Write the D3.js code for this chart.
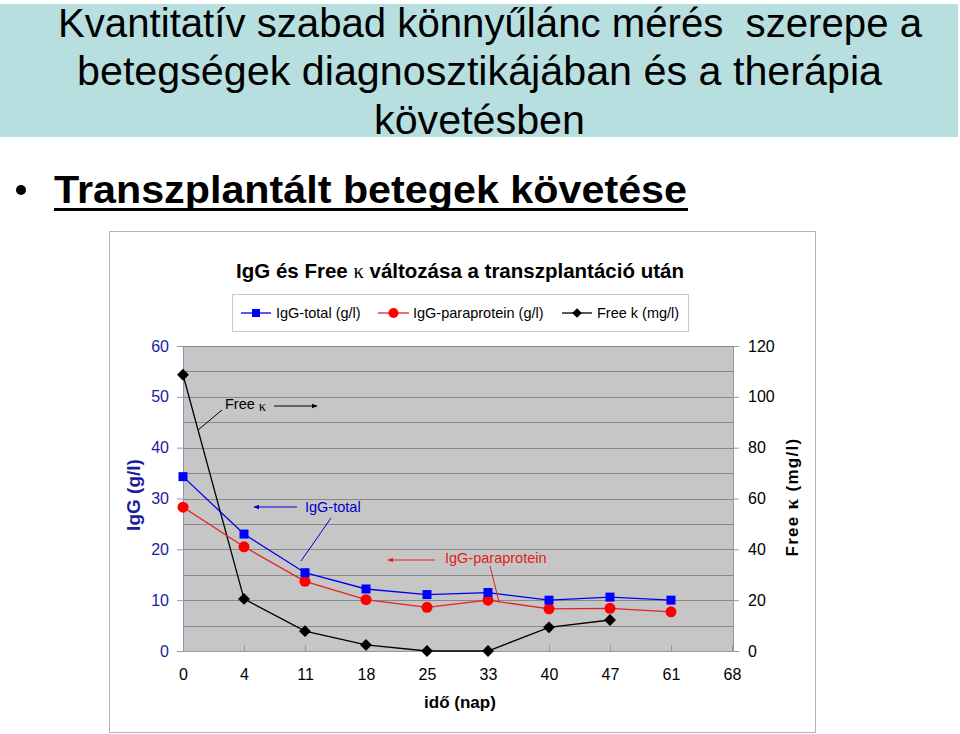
<!DOCTYPE html>
<html><head><meta charset="utf-8">
<script src="https://cdn.jsdelivr.net/npm/d3@7"></script>
<style>body{margin:0;background:#fff}svg{display:block}</style>
</head><body>
<script>
const days = ["0","4","11","18","25","33","40","47","61","68"];
const igTotal = [34.3, 23.0, 15.4, 12.2, 11.1, 11.5, 10.0, 10.6, 10.0, null];
const igPara = [28.3, 20.5, 13.7, 10.1, 8.6, 10.0, 8.3, 8.4, 7.7, null];
const freeK = [108.7, 20.5, 7.8, 2.4, 0, 0, 9.3, 12.2, null, null];
const leftTicks = [0,10,20,30,40,50,60];
const rightTicks = [0,20,40,60,80,100,120];
const gridVals = d3.range(0, 61, 5);

const W = 960, H = 734;
const svg = d3.select("body").append("svg").attr("width", W).attr("height", H);
const narrow = "'Liberation Sans Narrow','Arial Narrow','Liberation Sans',sans-serif";
const sans = "'Liberation Sans',Arial,sans-serif";
const serif = "'Liberation Serif','DejaVu Serif',serif";

// Slide header
svg.append("rect").attr("x",0).attr("y",4).attr("width",958).attr("height",133).attr("fill","#b8dfe0");
const tl = [["Kvantitatív szabad könnyűlánc mérés  szerepe a",37,58,864],
            ["betegségek diagnosztikájában és a therápia",85,77,805],
            ["követésben",134,374,211]];
tl.forEach(([t,y,x,w])=>{
  svg.append("text").attr("x",x).attr("y",y).attr("font-family",narrow).attr("font-size",40)
    .attr("textLength",w).attr("lengthAdjust","spacingAndGlyphs").attr("xml:space","preserve").attr("fill","#000").text(t);
});
svg.append("circle").attr("cx",21).attr("cy",190).attr("r",5).attr("fill","#000");
svg.append("text").attr("x",54).attr("y",203).attr("font-family",narrow).attr("font-weight","bold").attr("font-size",39)
  .attr("textLength",633).attr("lengthAdjust","spacingAndGlyphs").text("Transzplantált betegek követése");
svg.append("rect").attr("x",54).attr("y",208).attr("width",634).attr("height",3).attr("fill","#000");

// Chart frame
svg.append("rect").attr("x",109.5).attr("y",231.5).attr("width",706).attr("height",501).attr("fill","#fff").attr("stroke","#b4b4b4");

// Chart title
const ct = svg.append("text").attr("x",460).attr("y",278).attr("text-anchor","middle").attr("font-family",sans).attr("font-weight","bold").attr("font-size",20.5);
ct.append("tspan").text("IgG és Free ");
ct.append("tspan").attr("font-family",serif).attr("font-weight","normal").text("κ");
ct.append("tspan").text(" változása a transzplantáció után");

// Scales
const x = d3.scalePoint().domain(days).range([183, 732]).padding(0);
const yL = d3.scaleLinear().domain([0,60]).range([651,346]);
const yR = d3.scaleLinear().domain([0,120]).range([651,346]);

// Plot area
svg.append("rect").attr("x",183).attr("y",346).attr("width",550).attr("height",305).attr("fill","#c6c6c6");
svg.append("g").selectAll("line").data(gridVals).join("line")
  .attr("x1",183).attr("x2",733).attr("y1",d=>Math.round(yL(d))+0.5).attr("y2",d=>Math.round(yL(d))+0.5)
  .attr("stroke","#888").attr("stroke-width",1);

// Axes
const gl = svg.append("g").attr("transform","translate(183,0)")
  .call(d3.axisLeft(yL).tickValues(leftTicks).tickSize(6).tickPadding(8));
gl.select(".domain").attr("stroke","#8f8fb8");
gl.selectAll(".tick line").attr("stroke","#999");
gl.selectAll("text").attr("font-family",sans).attr("font-size",16).attr("fill","#1c1ca0");

const gr = svg.append("g").attr("transform","translate(733,0)")
  .call(d3.axisRight(yR).tickValues(rightTicks).tickSize(6).tickPadding(9));
gr.select(".domain").attr("stroke","#999");
gr.selectAll(".tick line").attr("stroke","#999");
gr.selectAll("text").attr("font-family",sans).attr("font-size",16).attr("fill","#000");

const gx = svg.append("g").attr("transform","translate(0,651)")
  .call(d3.axisBottom(x).tickSize(-6).tickPadding(18));
gx.select(".domain").attr("stroke","#999");
gx.selectAll(".tick line").attr("stroke","#999");
gx.selectAll("text").attr("font-family",sans).attr("font-size",16).attr("fill","#000");

// Axis titles
svg.append("text").attr("x",460).attr("y",708).attr("text-anchor","middle").attr("font-family",sans)
  .attr("font-weight","bold").attr("font-size",17).text("idő (nap)");
svg.append("text").attr("transform","translate(140,495) rotate(-90)").attr("text-anchor","middle")
  .attr("font-family",sans).attr("font-weight","bold").attr("font-size",19).attr("fill","#1c1ca0").text("IgG (g/l)");
const rt = svg.append("text").attr("transform","translate(798,497) rotate(-90)").attr("text-anchor","middle")
  .attr("font-family",sans).attr("font-weight","bold").attr("font-size",17).attr("letter-spacing",1.3).attr("fill","#000");
rt.append("tspan").text("Free ");
rt.append("tspan").attr("font-family",serif).attr("font-size",19).text("κ");
rt.append("tspan").text(" (mg/l)");

// Series
function lineFor(vals, ys){
  return d3.line().defined(d=>d.v!=null).x(d=>x(d.k)).y(d=>ys(d.v))(days.map((k,i)=>({k,v:vals[i]})));
}
const pts = (vals)=>days.map((k,i)=>({k,v:vals[i]})).filter(d=>d.v!=null);

svg.append("path").attr("d",lineFor(freeK,yR)).attr("fill","none").attr("stroke","#000").attr("stroke-width",1.3);
svg.append("path").attr("d",lineFor(igPara,yL)).attr("fill","none").attr("stroke","#e82020").attr("stroke-width",1.3);
svg.append("path").attr("d",lineFor(igTotal,yL)).attr("fill","none").attr("stroke","#0000ee").attr("stroke-width",1.3);

svg.append("g").selectAll("path").data(pts(freeK)).join("path")
  .attr("d",d3.symbol(d3.symbolDiamond2 || d3.symbolDiamond,90)())
  .attr("transform",d=>`translate(${x(d.k)},${yR(d.v)})`).attr("fill","#000");
svg.append("g").selectAll("circle").data(pts(igPara)).join("circle")
  .attr("cx",d=>x(d.k)).attr("cy",d=>yL(d.v)).attr("r",5.5).attr("fill","#ff0000");
svg.append("g").selectAll("rect").data(pts(igTotal)).join("rect")
  .attr("x",d=>x(d.k)-4.5).attr("y",d=>yL(d.v)-4.5).attr("width",9).attr("height",9).attr("fill","#0000ff");

// Legend
svg.append("rect").attr("x",232.5).attr("y",294.5).attr("width",456).attr("height",37).attr("fill","#fff").attr("stroke","#c8c8c8");
const ly = 313;
const lg = svg.append("g").attr("font-family",sans).attr("font-size",14.5);
lg.append("line").attr("x1",241).attr("x2",271).attr("y1",ly).attr("y2",ly).attr("stroke","#0000ee").attr("stroke-width",1.3);
lg.append("rect").attr("x",252).attr("y",ly-4).attr("width",8).attr("height",8).attr("fill","#0000ff");
lg.append("text").attr("x",276).attr("y",ly+5).text("IgG-total (g/l)");
lg.append("line").attr("x1",378).attr("x2",409).attr("y1",ly).attr("y2",ly).attr("stroke","#e82020").attr("stroke-width",1.3);
lg.append("circle").attr("cx",393.5).attr("cy",ly).attr("r",5).attr("fill","#ff0000");
lg.append("text").attr("x",413).attr("y",ly+5).text("IgG-paraprotein (g/l)");
lg.append("line").attr("x1",562).attr("x2",592).attr("y1",ly).attr("y2",ly).attr("stroke","#000").attr("stroke-width",1.3);
lg.append("path").attr("d",d3.symbol(d3.symbolDiamond2 || d3.symbolDiamond,60)()).attr("transform",`translate(577,${ly})`).attr("fill","#000");
lg.append("text").attr("x",597).attr("y",ly+5).text("Free k (mg/l)");

// Annotations
const defs = svg.append("defs");
[["ak","#000"],["ab","#0000cc"],["ar","#e02020"]].forEach(([id,c])=>{
  defs.append("marker").attr("id",id).attr("viewBox","0 0 10 10").attr("refX",9).attr("refY",5)
    .attr("markerWidth",5).attr("markerHeight",5).attr("orient","auto")
    .append("path").attr("d","M0,1L10,5L0,9Z").attr("fill",c);
});
const fk = svg.append("text").attr("x",225).attr("y",409).attr("font-family",sans).attr("font-size",14.5).attr("fill","#000");
fk.append("tspan").text("Free ");
fk.append("tspan").attr("font-family",serif).attr("dy",2).text("κ");
svg.append("line").attr("x1",274).attr("x2",317).attr("y1",406).attr("y2",406).attr("stroke","#000").attr("stroke-width",1.2).attr("marker-end","url(#ak)");
svg.append("line").attr("x1",222).attr("y1",410).attr("x2",198).attr("y2",430).attr("stroke","#000").attr("stroke-width",1);

svg.append("text").attr("x",305).attr("y",512).attr("font-family",sans).attr("font-size",14.5).attr("fill","#0000cc").text("IgG-total");
svg.append("line").attr("x1",297).attr("x2",254).attr("y1",507).attr("y2",507).attr("stroke","#0000cc").attr("stroke-width",1.2).attr("marker-end","url(#ab)");
svg.append("line").attr("x1",331).attr("y1",518).attr("x2",301).attr("y2",561).attr("stroke","#0000cc").attr("stroke-width",1);

svg.append("text").attr("x",445).attr("y",563).attr("font-family",sans).attr("font-size",14.5).attr("fill","#e02020").text("IgG-paraprotein");
svg.append("line").attr("x1",435).attr("x2",388).attr("y1",560).attr("y2",560).attr("stroke","#e02020").attr("stroke-width",1.2).attr("marker-end","url(#ar)");
svg.append("line").attr("x1",490).attr("y1",566).attr("x2",499).attr("y2",602).attr("stroke","#e02020").attr("stroke-width",1);
</script>
</body></html>
